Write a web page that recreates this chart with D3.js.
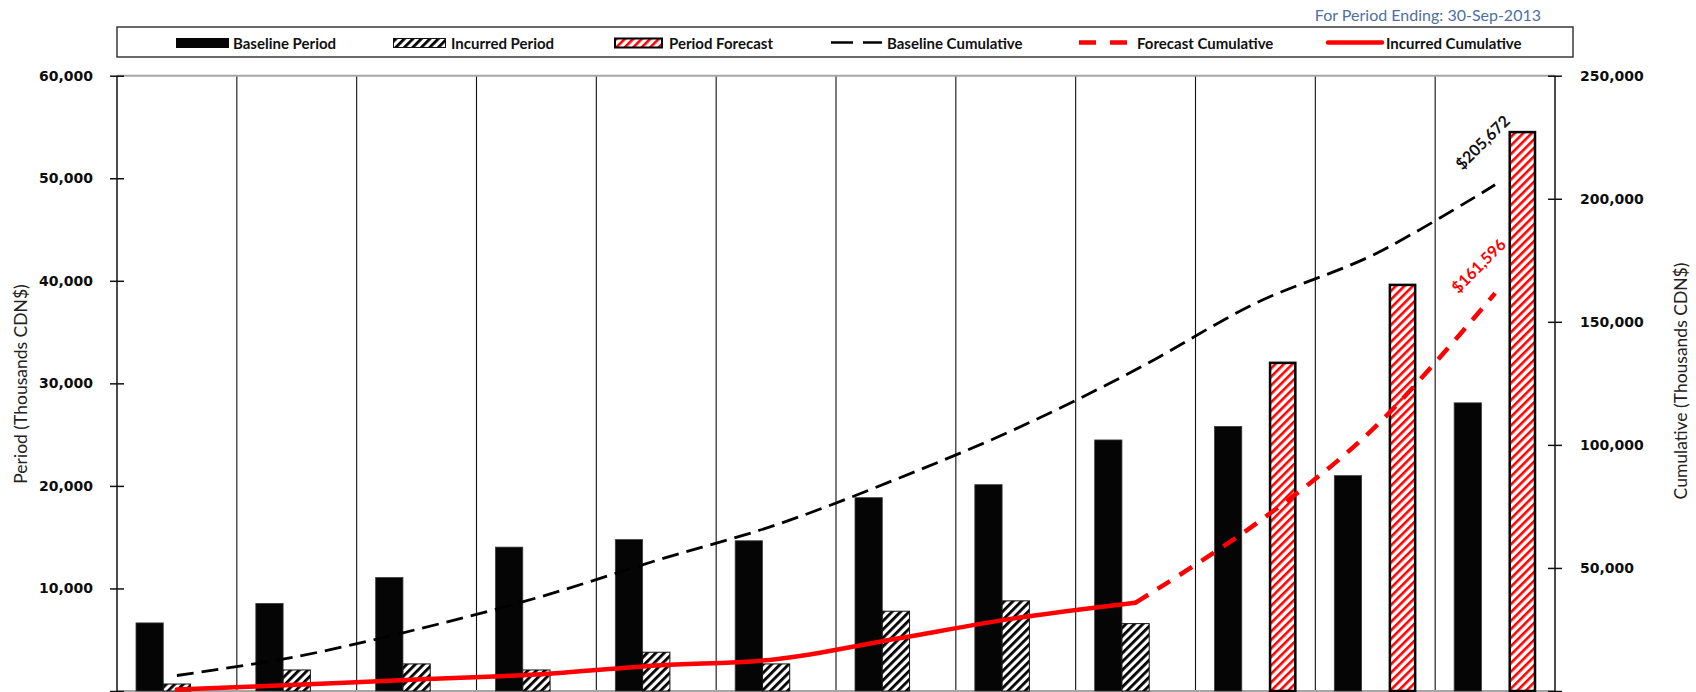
<!DOCTYPE html>
<html><head><meta charset="utf-8">
<script src="https://cdn.jsdelivr.net/npm/d3@7"></script>
<style>
body{margin:0;background:#fff;}
svg{display:block;}
</style>
</head><body>
<svg id="chart" width="1696" height="692"></svg>
<script>
// ---------- data ----------
const categories = ["Jan-13","Feb-13","Mar-13","Apr-13","May-13","Jun-13","Jul-13","Aug-13","Sep-13","Oct-13","Nov-13","Dec-13"];
const baselinePeriod = [6640, 8540, 11070, 14030, 14760, 14650, 18850, 20120, 24480, 25800, 21000, 28100];
const incurredPeriod = [680, 2050, 2640, 2050, 3780, 2640, 7780, 8790, 6570, null, null, null];
const periodForecast = [null, null, null, null, null, null, null, null, null, 32000, 39600, 54500];
const baselineCumulative = [6300, 14000, 25000, 37800, 53000, 67500, 86000, 106500, 130500, 157500, 177600, 205672];
const incurredCumulative = [650, 2500, 4700, 6700, 10400, 12900, 21200, 29600, 35900, null, null, null];
const forecastCumulative = [null, null, null, null, null, null, null, null, 35900, 67800, 107300, 161596];
const leftTicks = [0, 10000, 20000, 30000, 40000, 50000, 60000];
const rightTicks = [0, 50000, 100000, 150000, 200000, 250000];
const legendLabels = ["Baseline Period", "Incurred Period", "Period Forecast", "Baseline Cumulative", "Forecast Cumulative", "Incurred Cumulative"];
const endLabels = ["$205,672", "$161,596"];
const periodEnding = "For Period Ending: 30-Sep-2013";
const leftTitle = "Period (Thousands CDN$)";
const rightTitle = "Cumulative (Thousands CDN$)";

// ---------- layout ----------
const svg = d3.select("#chart");
const plotL = 117, plotR = 1555, plotT = 75.7, plotB = 691;
const x0 = d3.scaleBand().domain(categories).range([plotL, plotR]).padding(0);
const bw = x0.bandwidth();
const gapHalf = 19;
const x1 = d3.scaleBand().domain(["baseline", "incurred", "forecast"]).range([gapHalf, bw - gapHalf]).padding(0);
const yL = d3.scaleLinear().domain([0, 60000]).range([plotB, plotT]);
const yR = d3.scaleLinear().domain([0, 250000]).range([plotB, plotT]);
const fmt = d3.format(",");

// ---------- patterns ----------
const defs = svg.append("defs");
function hatch(id, color, period, stroke) {
  const p = defs.append("pattern").attr("id", id).attr("patternUnits", "userSpaceOnUse")
    .attr("width", period).attr("height", period).attr("patternTransform", "rotate(45)");
  p.append("rect").attr("width", period).attr("height", period).attr("fill", "#fff");
  p.append("rect").attr("x", 0).attr("y", 0).attr("width", stroke).attr("height", period).attr("fill", color);
}
hatch("hatchBlack", "#000", 6, 2.8);
hatch("hatchRed", "#ff0000", 6, 2.6);

// ---------- gridlines ----------
const g = svg.append("g");
g.selectAll("line.vgrid").data(categories.slice(1)).join("line")
  .attr("class", "vgrid")
  .attr("x1", d => x0(d)).attr("x2", d => x0(d))
  .attr("y1", plotT).attr("y2", plotB)
  .attr("stroke", "#111").attr("stroke-width", 1.1);
g.append("line").attr("x1", plotL).attr("x2", plotR).attr("y1", yL(60000)).attr("y2", yL(60000))
  .attr("stroke", "#a6a6a6").attr("stroke-width", 2);
g.append("line").attr("x1", plotL).attr("x2", plotR).attr("y1", plotB).attr("y2", plotB)
  .attr("stroke", "#a6a6a6").attr("stroke-width", 2);

// ---------- bars ----------
const bars = svg.append("g");
bars.selectAll("rect.base").data(categories).join("rect")
  .attr("class", "base")
  .attr("x", d => x0(d) + x1("baseline"))
  .attr("width", x1.bandwidth())
  .attr("y", (d, i) => yL(baselinePeriod[i]))
  .attr("height", (d, i) => yL(0) - yL(baselinePeriod[i]))
  .attr("fill", "#050505").attr("stroke", "#3a3a3a").attr("stroke-width", 0.8);
bars.selectAll("rect.inc").data(categories.filter((d, i) => incurredPeriod[i] != null)).join("rect")
  .attr("class", "inc")
  .attr("x", d => x0(d) + x1("incurred"))
  .attr("width", x1.bandwidth())
  .attr("y", d => yL(incurredPeriod[categories.indexOf(d)]))
  .attr("height", d => yL(0) - yL(incurredPeriod[categories.indexOf(d)]))
  .attr("fill", "url(#hatchBlack)").attr("stroke", "#111").attr("stroke-width", 1);
bars.selectAll("rect.fc").data(categories.filter((d, i) => periodForecast[i] != null)).join("rect")
  .attr("class", "fc")
  .attr("x", d => x0(d) + x1("forecast") + 1)
  .attr("width", x1.bandwidth() - 2)
  .attr("y", d => yL(periodForecast[categories.indexOf(d)]))
  .attr("height", d => yL(0) - yL(periodForecast[categories.indexOf(d)]))
  .attr("fill", "url(#hatchRed)").attr("stroke", "#000").attr("stroke-width", 2.5);

// ---------- lines ----------
const cx = d => x0(d) + bw / 2;
const curve = d3.curveCardinal.tension(0);
function series(vals) {
  return categories.map((c, i) => ({ c, v: vals[i] })).filter(p => p.v != null);
}
const lineR = d3.line().x(p => cx(p.c)).y(p => yR(p.v)).curve(curve);
svg.append("path").datum(series(baselineCumulative)).attr("d", lineR)
  .attr("fill", "none").attr("stroke", "#000").attr("stroke-width", 2.8).attr("stroke-dasharray", "17,8");
svg.append("path").datum(series(incurredCumulative)).attr("d", lineR)
  .attr("fill", "none").attr("stroke", "#ff0000").attr("stroke-width", 4.5).attr("stroke-linecap", "round");
svg.append("path").datum(series(forecastCumulative)).attr("d", lineR)
  .attr("fill", "none").attr("stroke", "#ff0000").attr("stroke-width", 4.5).attr("stroke-dasharray", "15,11").attr("stroke-linecap", "butt");

// ---------- axes ----------
const axL = svg.append("g").attr("transform", `translate(${plotL},0)`)
  .call(d3.axisLeft(yL).tickValues(leftTicks).tickSize(7).tickPadding(17).tickFormat(d => d === 0 ? "" : fmt(d)));
const axR = svg.append("g").attr("transform", `translate(${plotR},0)`)
  .call(d3.axisRight(yR).tickValues(rightTicks).tickSize(7).tickPadding(18).tickFormat(d => d === 0 ? "" : fmt(d)));
[axL, axR].forEach(ax => {
  ax.select(".domain").attr("stroke", "#111").attr("stroke-width", 1.5).attr("d", `M0,${plotT}V${plotB}`);
  ax.selectAll(".tick line").attr("x1", -7).attr("x2", 7).attr("stroke", "#111").attr("stroke-width", 1.5);
  ax.selectAll(".tick text").attr("font-family", "DejaVu Sans").attr("font-weight", "bold")
    .attr("font-size", 14).attr("fill", "#0d0d0d");
});

// axis titles
svg.append("text").attr("transform", `translate(20,384) rotate(-90)`)
  .attr("text-anchor", "middle").attr("dominant-baseline", "central")
  .attr("font-family", "Lato").attr("font-size", 17.5).attr("fill", "#222").text(leftTitle);
svg.append("text").attr("transform", `translate(1680,381) rotate(-90)`)
  .attr("text-anchor", "middle").attr("dominant-baseline", "central")
  .attr("font-family", "Lato").attr("font-size", 17.5).attr("fill", "#222").text(rightTitle);

// period ending
svg.append("text").attr("x", 1541).attr("y", 14).attr("text-anchor", "end").attr("dominant-baseline", "central")
  .attr("font-family", "Lato").attr("font-size", 16).attr("fill", "#4f6f9f").text(periodEnding);

// end labels
const last = categories[categories.length - 1];
const li = categories.length - 1;
svg.append("text")
  .attr("transform", `translate(${cx(last) - 13},${yR(baselineCumulative[li]) - 43}) rotate(-45)`)
  .attr("text-anchor", "middle").attr("dominant-baseline", "central")
  .attr("font-family", "Lato").attr("font-weight", "bold").attr("font-size", 16).attr("fill", "#111").text(endLabels[0]);
svg.append("text")
  .attr("transform", `translate(${cx(last) - 17},${yR(forecastCumulative[li]) - 28}) rotate(-45)`)
  .attr("text-anchor", "middle").attr("dominant-baseline", "central")
  .attr("font-family", "Lato").attr("font-weight", "bold").attr("font-size", 16).attr("fill", "#ff0000").text(endLabels[1]);

// ---------- legend ----------
const lg = svg.append("g");
lg.append("rect").attr("x", 117).attr("y", 27).attr("width", 1456).attr("height", 30)
  .attr("fill", "#fff").attr("stroke", "#3a3a3a").attr("stroke-width", 1.5);
const ly = 42.5;
lg.append("rect").attr("x", 176).attr("y", 38).attr("width", 53).attr("height", 10).attr("fill", "#050505");
lg.append("rect").attr("x", 393.5).attr("y", 38.5).attr("width", 52).attr("height", 9).attr("fill", "url(#hatchBlack)").attr("stroke", "#111").attr("stroke-width", 1);
lg.append("rect").attr("x", 615).attr("y", 38.5).attr("width", 47).attr("height", 9).attr("fill", "url(#hatchRed)").attr("stroke", "#000").attr("stroke-width", 2);
lg.append("line").attr("x1", 831).attr("x2", 882).attr("y1", ly).attr("y2", ly).attr("stroke", "#000").attr("stroke-width", 2.6).attr("stroke-dasharray", "22,10");
lg.append("line").attr("x1", 1079).attr("x2", 1127).attr("y1", ly).attr("y2", ly).attr("stroke", "#ff0000").attr("stroke-width", 4.5).attr("stroke-dasharray", "17,14");
lg.append("line").attr("x1", 1328).attr("x2", 1382).attr("y1", ly).attr("y2", ly).attr("stroke", "#ff0000").attr("stroke-width", 4.5).attr("stroke-linecap", "round");
const textX = [233, 451, 669, 887, 1137, 1386];
lg.selectAll("text.leg").data(legendLabels).join("text").attr("class", "leg")
  .attr("x", (d, i) => textX[i]).attr("y", ly).attr("dominant-baseline", "central")
  .attr("font-family", "Lato").attr("font-weight", "bold").attr("font-size", 15).attr("fill", "#111")
  .text(d => d);
</script>
</body></html>
